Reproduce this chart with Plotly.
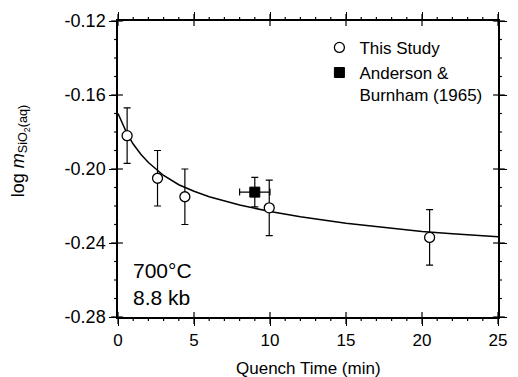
import plotly.graph_objects as go

# This Study
study_t = [0.6, 2.6, 4.4, 9.95, 20.5]
study_log_m = [-0.182, -0.205, -0.215, -0.221, -0.237]
study_err = [0.015, 0.015, 0.015, 0.015, 0.015]

# Anderson & Burnham (1965)
ab_t = [9.0]
ab_log_m = [-0.2125]
ab_err_y = [0.008]
ab_err_x = [1.0]

# fitted curve
fit_t = [0.0, 0.3, 0.6, 1.0, 1.5, 2.0, 3.0, 4.0, 5.0, 6.0, 8.0, 10.0, 12.0, 15.0, 18.0, 20.0, 22.0, 25.0]
fit_log_m = [-0.170, -0.176, -0.181, -0.1865, -0.192, -0.1965, -0.2035, -0.2085, -0.2120, -0.2150,
             -0.2195, -0.2230, -0.2258, -0.2293, -0.2322, -0.2338, -0.2350, -0.2366]

x_range = [0, 25]
y_range = [-0.28, -0.12]
x_ticks = [0, 5, 10, 15, 20, 25]
x_minor = list(range(0, 26))
y_ticks = [-0.12, -0.16, -0.20, -0.24, -0.28]
y_labels = ["-0.12", "-0.16", "-0.20", "-0.24", "-0.28"]
y_minor = [round(-0.12 - 0.01 * i, 2) for i in range(17)]

FONT = "Liberation Sans, Arial, sans-serif"
W, H = 518, 377
M = dict(l=118, r=11, t=19, b=60)
PW = W - M["l"] - M["r"]
PH = H - M["t"] - M["b"]

fig = go.Figure()
fig.add_trace(go.Scatter(x=fit_t, y=fit_log_m, mode="lines", line=dict(color="black", width=1.5),
                         showlegend=False, hoverinfo="skip"))
fig.add_trace(go.Scatter(
    x=study_t, y=study_log_m, mode="markers", name="This Study",
    marker=dict(symbol="circle", size=10, color="white", line=dict(color="black", width=1.3)),
    error_y=dict(type="data", array=study_err, color="black", thickness=1.2, width=3.5),
))
fig.add_trace(go.Scatter(
    x=ab_t, y=ab_log_m, mode="markers", name="Anderson &<br>Burnham (1965)",
    marker=dict(symbol="square", size=10, color="black", line=dict(color="black", width=1)),
    error_y=dict(type="data", array=ab_err_y, color="black", thickness=1.2, width=3.5),
    error_x=dict(type="data", array=ab_err_x, color="black", thickness=1.2, width=3.5),
))

# tick marks (major ticks cross the frame, minor ticks point outward) on all four sides
def xf(v):
    return (v - x_range[0]) / (x_range[1] - x_range[0])

def yf(v):
    return (v - y_range[0]) / (y_range[1] - y_range[0])

shapes = []
tick_line = dict(color="black", width=1.2)
for v in x_minor:
    major = v in x_ticks
    out_len = (7 if major else 4) / PH
    in_len = (5 if major else 0) / PH
    shapes.append(dict(type="line", xref="paper", yref="paper", x0=xf(v), x1=xf(v),
                       y0=-out_len, y1=in_len, line=tick_line))
    shapes.append(dict(type="line", xref="paper", yref="paper", x0=xf(v), x1=xf(v),
                       y0=1 - in_len, y1=1 + out_len, line=tick_line))
for v in y_minor:
    major = any(abs(v - t) < 1e-9 for t in y_ticks)
    out_len = (7 if major else 4) / PW
    in_len = (5 if major else 0) / PW
    shapes.append(dict(type="line", xref="paper", yref="paper", y0=yf(v), y1=yf(v),
                       x0=-out_len, x1=in_len, line=tick_line))
    shapes.append(dict(type="line", xref="paper", yref="paper", y0=yf(v), y1=yf(v),
                       x0=1 - in_len, x1=1 + out_len, line=tick_line))

axis_common = dict(showgrid=False, zeroline=False, showline=True, linecolor="black", linewidth=1.5,
                   ticks="outside", tickcolor="black", tickwidth=1.2, ticklen=7, mirror="ticks")

fig.update_layout(
    width=W, height=H,
    margin=M,
    paper_bgcolor="white", plot_bgcolor="white",
    font=dict(family=FONT, color="black"),
    xaxis=dict(range=x_range, tickmode="array", tickvals=x_ticks, ticktext=[str(v) for v in x_ticks],
               tickfont=dict(family=FONT, size=17, color="black"), **axis_common),
    yaxis=dict(range=y_range, tickmode="array", tickvals=y_ticks, ticktext=y_labels,
               tickfont=dict(family=FONT, size=18, color="black"), **axis_common),
    shapes=shapes,
    legend=dict(x=0.53, y=0.97, xanchor="left", yanchor="top", bgcolor="rgba(0,0,0,0)",
                font=dict(family=FONT, size=17, color="black"), valign="top",
                itemwidth=30, tracegroupgap=1),
    annotations=[
        dict(text="Quench Time (min)", xref="paper", yref="paper", x=0.5, y=-0.135,
             xanchor="center", yanchor="top", showarrow=False,
             font=dict(family=FONT, size=17, color="black")),
        dict(text="log <i>m</i><sub>SiO<sub>2</sub>(aq)</sub>", xref="paper", yref="paper",
             x=-0.258, y=0.56, xanchor="center", yanchor="middle", textangle=-90, showarrow=False,
             font=dict(family=FONT, size=18, color="black")),
        dict(text="700°C<br>8.8 kb", xref="x", yref="y", x=0.85, y=-0.2478,
             xanchor="left", yanchor="top", align="left", showarrow=False,
             font=dict(family=FONT, size=21, color="black")),
    ],
)

fig.write_html("out.html")
